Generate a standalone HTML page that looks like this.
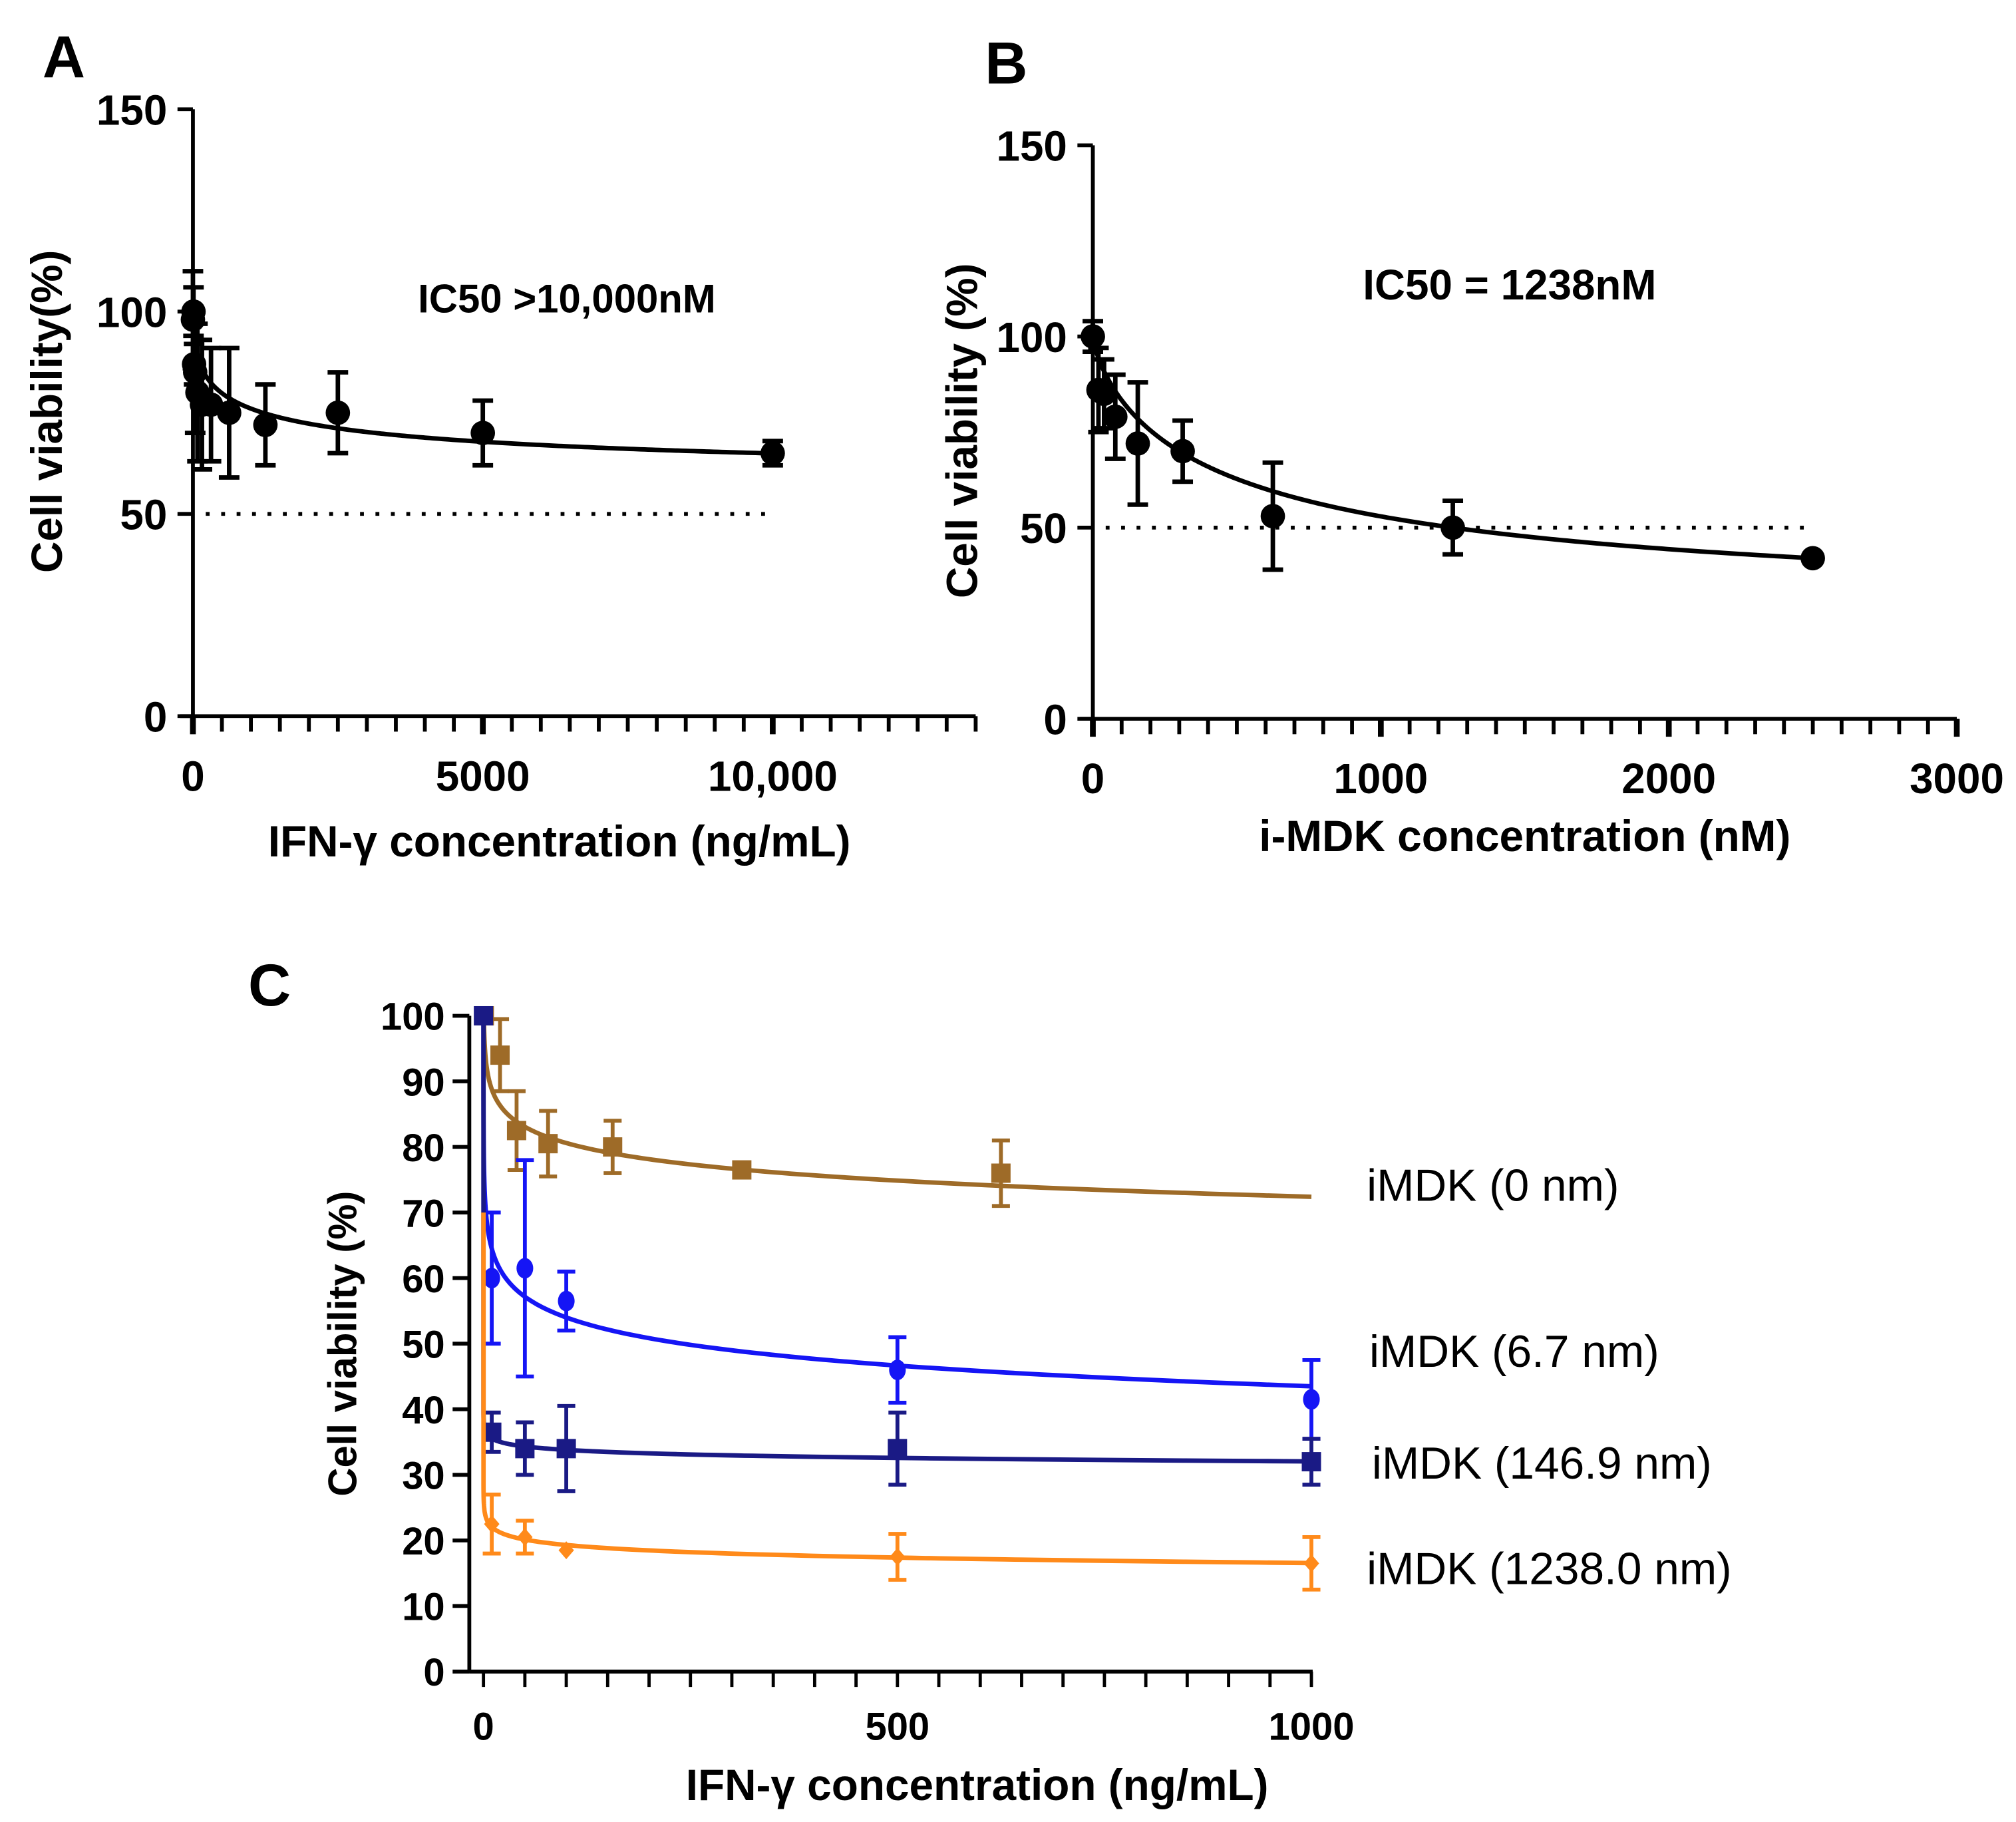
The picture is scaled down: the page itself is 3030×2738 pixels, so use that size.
<!DOCTYPE html>
<html><head><meta charset="utf-8"><style>
html,body{margin:0;padding:0;background:#fff;}
svg{display:block;font-family:"Liberation Sans",Arial,sans-serif;}
</style></head><body>
<svg id="fig" width="3030" height="2738" viewBox="0 0 1568 1417" xmlns="http://www.w3.org/2000/svg">
<rect width="1568" height="1417" fill="#fff"/>
<g id="gA"></g>
<g id="gB"></g>
<g id="gC"></g>
</svg>
<script>
// Panel A data
const aX = [0, 10, 20, 39, 78, 156, 312, 625, 1250, 2500, 5000, 10000];
const aY = [98, 100, 87, 85, 80, 77, 77, 75, 72, 75, 70, 65];
const aErr = [12, 6, 5, 15, 17, 16, 14, 16, 10, 10, 8, 3];
const aFit = [55, 100, 765, 0.49]; // bottom, top, ec50, hill
const aXTicks = [0, 5000, 10000];
const aXTickLabels = ['0', '5000', '10,000'];
const aYTicks = [0, 50, 100, 150];
// Panel B data
const bX = [0, 19.5, 39, 78, 156, 312, 625, 1250, 2500];
const bY = [100, 86, 85, 79, 72, 70, 53, 50, 42];
const bErr = [4, 11, 9, 11, 16, 8, 14, 7, 1];
const bFit = [25, 100, 508, 0.77];
const bXTicks = [0, 1000, 2000, 3000];
const bXTickLabels = ['0', '1000', '2000', '3000'];
const bYTicks = [0, 50, 100, 150];
// Panel C data
const cNames = ['iMDK (0 nm)', 'iMDK (6.7 nm)', 'iMDK (146.9 nm)', 'iMDK (1238.0 nm)'];
const cColors = ['#9E6B28', '#1515F5', '#1A1A85', '#FF8A1A'];
const cMarkers = ['square', 'circle', 'square', 'diamond'];
const cX = [[1, 20, 40, 78, 156, 312, 625], [10, 50, 100, 500, 1000], [0, 10, 50, 100, 500, 1000], [10, 50, 100, 500, 1000]];
const cY = [[100, 94, 82.5, 80.5, 80, 76.5, 76], [60, 61.5, 56.5, 46, 41.5], [100, 36.5, 34, 34, 34, 32], [22.5, 20.5, 18.5, 17.5, 16.5]];
const cErr = [[1, 5.5, 6, 5, 4, 0.5, 5], [10, 16.5, 4.5, 5, 6], [0, 3, 4, 6.5, 5.5, 3.5], [4.5, 2.5, 0, 3.5, 4]];
const cFitA = [97, 75, 37.3, 24.8];
const cFitB = [8.2, 10.5, 1.75, 2.75];
const cFitStart = [100, 100, 100, 70];
const cXTicks = [0, 500, 1000];
const cYTicks = [0, 10, 20, 30, 40, 50, 60, 70, 80, 90, 100];

const NS = 'http://www.w3.org/2000/svg';
function mk(parent, tag, attrs, text) {
  const e = document.createElementNS(NS, tag);
  for (const k in attrs) e.setAttribute(k, attrs[k]);
  if (text !== undefined) e.textContent = text;
  parent.appendChild(e);
  return e;
}
function hill(p, x) { return p[0] + (p[1] - p[0]) / (1 + Math.pow(x / p[2], p[3])); }

function panelAB(g, cfg) {
  const sx = v => cfg.x0 + (v - 0) * cfg.kx;
  const sy = v => cfg.y0 - v * cfg.ky;
  let e = mk(g, 'line', {x1: sx(0), y1: sy(cfg.yMax), x2: sx(0), y2: sy(0) + 1, stroke: '#000', 'stroke-width': 3});
   
  e = mk(g, 'line', {x1: sx(0) - 10, y1: sy(0), x2: sx(cfg.xMax), y2: sy(0), stroke: '#000', 'stroke-width': 3});
   
  for (let v = 0; v <= cfg.xMax + 1e-6; v += cfg.minor) {
    e = mk(g, 'line', {x1: sx(v), y1: sy(0), x2: sx(v), y2: sy(0) + 12, stroke: '#000', 'stroke-width': 3});
     
  }
  cfg.xTicks.forEach((v, i) => {
    e = mk(g, 'line', {x1: sx(v), y1: sy(0), x2: sx(v), y2: sy(0) + 14, stroke: '#000', 'stroke-width': 4.5});
     
    e = mk(g, 'text', {x: sx(v), y: sy(0) + 58, 'text-anchor': 'middle', 'font-size': 33, 'font-weight': 'bold'}, cfg.xLabels[i]);
     
  });
  cfg.yTicks.forEach(v => {
    e = mk(g, 'line', {x1: sx(0) - 12, y1: sy(v), x2: sx(0), y2: sy(v), stroke: '#000', 'stroke-width': 3});
     
    e = mk(g, 'text', {x: sx(0) - 20, y: sy(v) + 12, 'text-anchor': 'end', 'font-size': 33, 'font-weight': 'bold'}, String(v));
     
  });
  e = mk(g, 'line', {x1: cfg.dotX1, y1: sy(50), x2: sx(cfg.dotEnd), y2: sy(50), stroke: '#000', 'stroke-width': 3, 'stroke-dasharray': '3 9'});
   
  let d = '';
  for (let i = 0; i <= 400; i++) {
    const v = cfg.dataX[cfg.dataX.length - 1] * Math.pow(i / 400, 3);
    d += (i ? 'L' : 'M') + sx(v).toFixed(2) + ',' + sy(hill(cfg.fit, v)).toFixed(2);
  }
  e = mk(g, 'path', {d: d, fill: 'none', stroke: '#000', 'stroke-width': 3.5});
   
  cfg.dataX.forEach((v, i) => {
    const x = sx(v), y = sy(cfg.dataY[i]), t = sy(cfg.dataY[i] + cfg.err[i]), b = sy(cfg.dataY[i] - cfg.err[i]);
    e = mk(g, 'path', {d: `M${x},${t}L${x},${b}M${x - 8},${t}L${x + 8},${t}M${x - 8},${b}L${x + 8},${b}`, stroke: '#000', 'stroke-width': 3.5, fill: 'none'});
     
    e = mk(g, 'circle', {cx: x, cy: y, r: 9.5, fill: '#000'});
     
  });
  e = mk(g, 'text', {x: cfg.letterX, y: cfg.letterY, 'font-size': 46, 'font-weight': 'bold'}, cfg.letter);
   
  e = mk(g, 'text', {x: cfg.icX, y: cfg.icY, 'font-size': cfg.icSize, 'font-weight': 'bold'}, cfg.ic);
   
  e = mk(g, 'text', {x: cfg.xtX, y: cfg.xtY, 'text-anchor': 'middle', 'font-size': 34, 'font-weight': 'bold'}, cfg.xTitle);
   
  e = mk(g, 'text', {x: 0, y: 0, 'text-anchor': 'middle', 'font-size': 34, 'font-weight': 'bold', transform: `translate(${cfg.ytX},${cfg.ytY}) rotate(-90)`}, cfg.yTitle);
   
}

panelAB(document.getElementById('gA'), {
  x0: 150, kx: (601 - 150) / 10000, y0: 557, ky: (557 - 85) / 150, yMax: 150, xMax: 13500, minor: 500,
  xTicks: aXTicks, xLabels: aXTickLabels, yTicks: aYTicks, dotX1: 160, dotEnd: 10000,
  dataX: aX, dataY: aY, err: aErr, fit: aFit,
  letter: 'A', letterX: 33, letterY: 60, ic: 'IC50 >10,000nM', icX: 325, icY: 243, icSize: 31,
  xTitle: 'IFN-γ concentration (ng/mL)', xtX: 435, xtY: 666, yTitle: 'Cell viability(%)', ytX: 48, ytY: 320
});
panelAB(document.getElementById('gB'), {
  x0: 850, kx: (1522 - 850) / 3000, y0: 559, ky: (559 - 113) / 150, yMax: 150, xMax: 3000, minor: 100,
  xTicks: bXTicks, xLabels: bXTickLabels, yTicks: bYTicks, dotX1: 860, dotEnd: 2470,
  dataX: bX, dataY: bY, err: bErr, fit: bFit,
  letter: 'B', letterX: 766, letterY: 65, ic: 'IC50 = 1238nM', icX: 1060, icY: 233, icSize: 33,
  xTitle: 'i-MDK concentration (nM)', xtX: 1186, xtY: 662, yTitle: 'Cell viability (%)', ytX: 760, ytY: 335
});

(function () {
  const g = document.getElementById('gC');
  const sx = v => 376 + v * (1020 - 376) / 1000;
  const sy = v => 1300 - v * (1300 - 790) / 100;
  let e = mk(g, 'line', {x1: 365, y1: sy(100), x2: 365, y2: sy(0) + 1, stroke: '#000', 'stroke-width': 3});
   
  e = mk(g, 'line', {x1: 365, y1: sy(0), x2: sx(1000) + 1, y2: sy(0), stroke: '#000', 'stroke-width': 3});
   
  for (let v = 0; v <= 1000; v += 50) {
    e = mk(g, 'line', {x1: sx(v), y1: sy(0), x2: sx(v), y2: sy(0) + 12, stroke: '#000', 'stroke-width': 2.5});
     
  }
  cXTicks.forEach(v => {
    e = mk(g, 'text', {x: sx(v), y: sy(0) + 53, 'text-anchor': 'middle', 'font-size': 30, 'font-weight': 'bold'}, String(v));
     
  });
  cYTicks.forEach(v => {
    e = mk(g, 'line', {x1: 352, y1: sy(v), x2: 365, y2: sy(v), stroke: '#000', 'stroke-width': 3});
     
    e = mk(g, 'text', {x: 346, y: sy(v) + 11, 'text-anchor': 'end', 'font-size': 30, 'font-weight': 'bold'}, String(v));
     
  });
  const labelY = [934, 1063, 1150, 1232];
  const labelX = [1063, 1065, 1067, 1063];
  cNames.forEach((name, s) => {
    const col = cColors[s];
    let d = 'M' + sx(0) + ',' + sy(cFitStart[s]);
    for (let i = 0; i <= 300; i++) {
      const v = 0.05 * Math.pow(1000 / 0.05, i / 300);
      const y = Math.min(cFitStart[s], cFitA[s] - cFitB[s] * Math.log10(v));
      d += 'L' + sx(v).toFixed(2) + ',' + sy(y).toFixed(2);
    }
    e = mk(g, 'path', {d: d, fill: 'none', stroke: col, 'stroke-width': 3.5});
     
    cX[s].forEach((v, i) => {
      const x = sx(v), y = sy(cY[s][i]), t = sy(cY[s][i] + cErr[s][i]), b = sy(cY[s][i] - cErr[s][i]);
      if (cErr[s][i] > 0) {
        e = mk(g, 'path', {d: `M${x},${t}L${x},${b}M${x - 7},${t}L${x + 7},${t}M${x - 7},${b}L${x + 7},${b}`, stroke: col, 'stroke-width': 3, fill: 'none'});
         
      }
      if (cMarkers[s] === 'square') e = mk(g, 'rect', {x: x - 7.5, y: y - 7.5, width: 15, height: 15, fill: col});
      else if (cMarkers[s] === 'circle') e = mk(g, 'ellipse', {cx: x, cy: y, rx: 6.5, ry: 8, fill: col});
      else e = mk(g, 'path', {d: `M${x},${y - 7}L${x + 6},${y}L${x},${y + 7}L${x - 6},${y}Z`, fill: col});
       
    });
    e = mk(g, 'text', {x: labelX[s], y: labelY[s], 'font-size': 35}, name);
     
  });
  e = mk(g, 'text', {x: 193, y: 782, 'font-size': 46, 'font-weight': 'bold'}, 'C');
   
  e = mk(g, 'text', {x: 760, y: 1400, 'text-anchor': 'middle', 'font-size': 34, 'font-weight': 'bold'}, 'IFN-γ concentration (ng/mL)');
   
  e = mk(g, 'text', {x: 0, y: 0, 'text-anchor': 'middle', 'font-size': 31, 'font-weight': 'bold', transform: 'translate(277,1045) rotate(-90)'}, 'Cell viability (%)');
   
})();
</script>
</body></html>
